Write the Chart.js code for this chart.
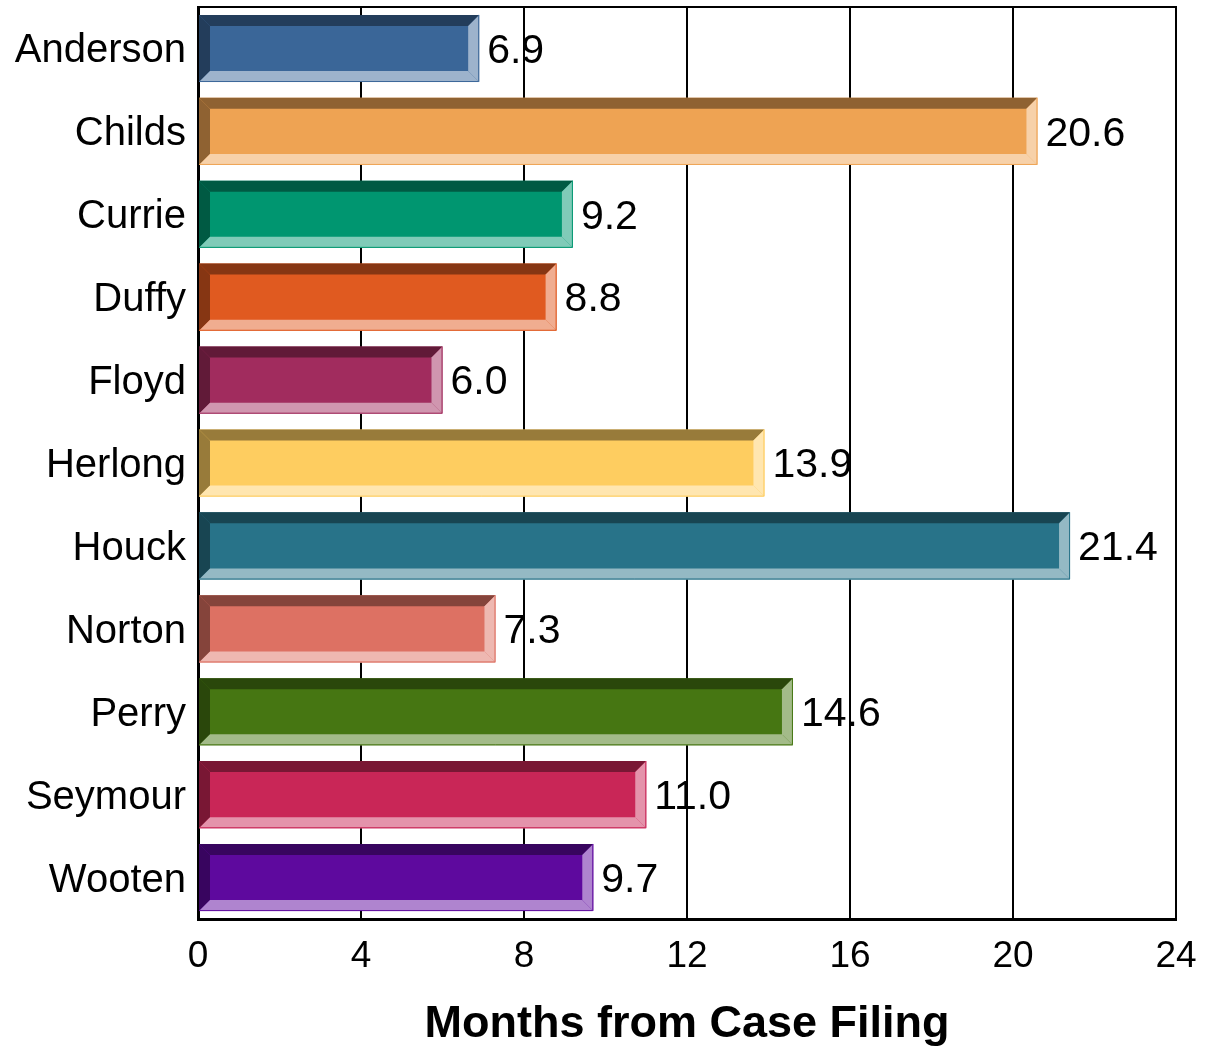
<!DOCTYPE html>
<html>
<head>
<meta charset="utf-8">
<script src="https://cdn.jsdelivr.net/npm/chart.js@4"></script>
<style>
    html, body { margin: 0; padding: 0; background: #fff; }
    #wrap { width: 1206px; height: 1047px; }
</style>
</head>
<body>
<div id="wrap"><canvas id="caseChart"></canvas></div>
<script>
// data
const judges = ['Anderson', 'Childs', 'Currie', 'Duffy', 'Floyd', 'Herlong', 'Houck', 'Norton', 'Perry', 'Seymour', 'Wooten'];
const months = [6.9, 20.6, 9.2, 8.8, 6.0, 13.9, 21.4, 7.3, 14.6, 11.0, 9.7];
const xTicks = [0, 4, 8, 12, 16, 20, 24];
const axisTitle = 'Months from Case Filing';

// face colour of each bar, bevels are derived from it
const barColors = ['#3A6698', '#EEA353', '#009670', '#E05A20', '#A12C5E', '#FECD60', '#287389', '#DD7163', '#467612', '#C92657', '#5E099E'];

function toRgb(hex) {
    const n = parseInt(hex.slice(1), 16);
    return [(n >> 16) & 255, (n >> 8) & 255, n & 255];
}
function darker(hex) {
    const c = toRgb(hex).map(v => Math.round(v * 0.6));
    return `rgb(${c[0]},${c[1]},${c[2]})`;
}
function lighter(hex) {
    const c = toRgb(hex).map(v => Math.round(v * 0.5 + 127.5));
    return `rgb(${c[0]},${c[1]},${c[2]})`;
}

function poly(ctx, pts, fill) {
    ctx.beginPath();
    ctx.moveTo(pts[0][0], pts[0][1]);
    for (let i = 1; i < pts.length; i++) ctx.lineTo(pts[i][0], pts[i][1]);
    ctx.closePath();
    ctx.fillStyle = fill;
    ctx.fill();
}

// bevel edges + value labels, drawn over the library's bars
const bevelPlugin = {
    id: 'bevel',
    beforeDatasetsDraw(chart) {
        const ctx = chart.ctx;
        const a = chart.chartArea;
        ctx.save();
        ctx.strokeStyle = '#000';
        ctx.lineWidth = 2;
        ctx.beginPath();
        ctx.moveTo(a.left, a.top);
        ctx.lineTo(a.right + 1, a.top);
        ctx.stroke();
        ctx.restore();
    },
    afterDatasetsDraw(chart) {
        const ctx = chart.ctx;
        const meta = chart.getDatasetMeta(0);
        const b = 11;
        ctx.save();
        meta.data.forEach(function (bar, i) {
            const L = bar.base, R = bar.x;
            const T = bar.y - bar.height / 2, B = bar.y + bar.height / 2;
            const main = barColors[i];
            const dk = darker(main), lt = lighter(main);
            poly(ctx, [[L, T], [R, T], [R - b, T + b], [L + b, T + b]], dk);
            poly(ctx, [[L, T], [L + b, T + b], [L + b, B - b], [L, B]], dk);
            poly(ctx, [[R, T], [R, B], [R - b, B - b], [R - b, T + b]], lt);
            poly(ctx, [[L, B], [R, B], [R - b, B - b], [L + b, B - b]], lt);
            ctx.strokeStyle = main;
            ctx.lineWidth = 1;
            ctx.beginPath();
            ctx.moveTo(R - 0.5, T);
            ctx.lineTo(R - 0.5, B - 0.5);
            ctx.lineTo(L, B - 0.5);
            ctx.stroke();

            ctx.fillStyle = '#000';
            ctx.font = '41px "Liberation Sans", Arial, sans-serif';
            ctx.textAlign = 'left';
            ctx.textBaseline = 'middle';
            ctx.fillText(months[i].toFixed(1), R + 8, bar.y + 3);
        });
        ctx.restore();
    }
};

const config = {
    type: 'bar',
    data: {
        labels: judges,
        datasets: [{
            data: months,
            backgroundColor: barColors,
            borderWidth: 0,
            barPercentage: 0.81,
            categoryPercentage: 1.0
        }]
    },
    options: {
        indexAxis: 'y',
        responsive: true,
        maintainAspectRatio: false,
        animation: false,
        devicePixelRatio: 1,
        layout: { padding: { left: 0, right: 30, top: 7, bottom: 0 } },
        plugins: {
            legend: { display: false },
            tooltip: { enabled: false }
        },
        scales: {
            x: {
                min: 0,
                max: 24,
                afterBuildTicks: function (scale) {
                    scale.ticks = xTicks.map(v => ({ value: v }));
                },
                afterFit: function (scale) {
                    scale.height = 128;
                    scale.paddingLeft = 0;
                    scale.paddingRight = 0;
                },
                grid: { color: '#000', lineWidth: 2, drawTicks: false },
                border: { color: '#000', width: 3 },
                ticks: {
                    color: '#000',
                    padding: 16,
                    maxRotation: 0,
                    font: { family: '"Liberation Sans", Arial, sans-serif', size: 37 }
                },
                title: {
                    display: true,
                    text: axisTitle,
                    color: '#000',
                    padding: { top: 20, bottom: -5 },
                    font: { family: '"Liberation Sans", Arial, sans-serif', size: 45, weight: 'bold' }
                }
            },
            y: {
                afterFit: function (scale) {
                    scale.width = 198;
                    scale.paddingTop = 0;
                    scale.paddingBottom = 0;
                },
                grid: { display: false, drawTicks: false },
                border: { color: '#000', width: 3 },
                ticks: {
                    color: '#000',
                    padding: 12,
                    labelOffset: 3,
                    font: { family: '"Liberation Sans", Arial, sans-serif', size: 40 }
                }
            }
        }
    },
    plugins: [bevelPlugin]
};

const chart = new Chart(document.getElementById('caseChart'), config);
</script>
</body>
</html>
